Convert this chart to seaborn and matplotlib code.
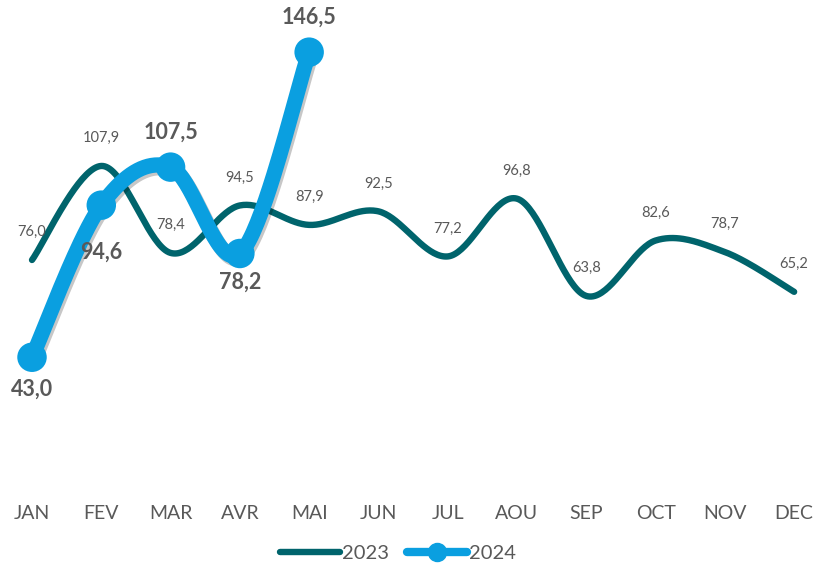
import numpy as np
import pandas as pd
import matplotlib
matplotlib.use("Agg")
import matplotlib.pyplot as plt
import matplotlib.patheffects as pe
from matplotlib.lines import Line2D
import seaborn as sns

# ---- data ----
months = ["JAN", "FEV", "MAR", "AVR", "MAI", "JUN", "JUL", "AOU", "SEP", "OCT", "NOV", "DEC"]
values_2023 = [76.0, 107.9, 78.4, 94.5, 87.9, 92.5, 77.2, 96.8, 63.8, 82.6, 78.7, 65.2]
values_2024 = [43.0, 94.6, 107.5, 78.2, 146.5]
series_names = ["2023", "2024"]

# ---- style ----
C23 = "#00646C"
C24 = "#0A9FE0"
TXT = "#595959"

sns.set_theme(style="white")
plt.rcParams["font.family"] = ["Lato", "DejaVu Sans"]


def smooth(y, n=40):
    """Excel-like smoothed line (Catmull-Rom Bezier) through the data points."""
    x = np.arange(len(y), dtype=float)
    y = np.asarray(y, dtype=float)
    P = np.column_stack([x, y])
    out = []
    for i in range(len(P) - 1):
        p0 = P[i - 1] if i > 0 else P[i]
        p1 = P[i]
        p2 = P[i + 1]
        p3 = P[i + 2] if i + 2 < len(P) else P[i + 1]
        b1 = p1 + (p2 - p0) / 6.0
        b2 = p2 - (p3 - p1) / 6.0
        t = np.linspace(0, 1, n, endpoint=(i == len(P) - 2))[:, None]
        pts = ((1 - t) ** 3) * p1 + 3 * ((1 - t) ** 2) * t * b1 + 3 * (1 - t) * t ** 2 * b2 + t ** 3 * p2
        out.append(pts)
    pts = np.vstack(out)
    return pts[:, 0], pts[:, 1]


fig = plt.figure(figsize=(8.17, 5.64), dpi=100)
ax = fig.add_axes([0, 1 - 484 / 564, 1, 484 / 564])

x23, y23 = smooth(values_2023)
x24, y24 = smooth(values_2024)
df23 = pd.DataFrame({"x": x23, "y": y23})
df24 = pd.DataFrame({"x": x24, "y": y24})
pts24 = pd.DataFrame({"x": np.arange(len(values_2024)), "y": values_2024})

sns.lineplot(data=df23, x="x", y="y", sort=False, ax=ax, color=C23, linewidth=4.6,
             solid_capstyle="round", zorder=2)
sns.lineplot(data=df24, x="x", y="y", sort=False, ax=ax, color=C24, linewidth=11,
             solid_capstyle="round", zorder=3)
ax.lines[-1].set_path_effects([
    pe.SimpleLineShadow(offset=(1.5, -2), shadow_color="black", alpha=0.22),
    pe.Normal(),
])
sns.scatterplot(data=pts24, x="x", y="y", ax=ax, color=C24, s=450, edgecolor="none",
                zorder=4)

# labels 2023 (above points)
for i, v in enumerate(values_2023):
    ax.annotate(f"{v:.1f}".replace(".", ","), (i, v), xytext=(0, 20), textcoords="offset points",
                ha="center", va="center", fontsize=10.5, color=TXT, zorder=5)

# labels 2024
off24 = [-23, -34, 25, -21, 25]
for i, v in enumerate(values_2024):
    ax.annotate(f"{v:.1f}".replace(".", ","), (i, v), xytext=(0, off24[i]), textcoords="offset points",
                ha="center", va="center", fontsize=15.5, fontweight="bold", color=TXT, zorder=5)

ax.set_xlim(-0.462, 11.33)
ax.set_ylim(0, 164.2)
ax.set_xticks(range(len(months)))
ax.set_xticklabels(months)
ax.set_yticks([])
ax.tick_params(axis="x", length=0, pad=15, labelsize=14, labelcolor=TXT)
ax.set_xlabel("")
ax.set_ylabel("")
for s in ax.spines.values():
    s.set_visible(False)
ax.patch.set_alpha(0)

handles = [
    Line2D([], [], color=C23, linewidth=4.6, solid_capstyle="round"),
    Line2D([], [], color=C24, linewidth=6, marker="o", markersize=13, solid_capstyle="round"),
]
leg = fig.legend(handles, series_names, loc="center", bbox_to_anchor=(398 / 817, 1 - 553 / 564),
                 ncol=2, frameon=False, handlelength=3.0, handletextpad=0.1, columnspacing=0.9,
                 fontsize=14.5)
for t in leg.get_texts():
    t.set_color(TXT)

fig.savefig("out.png", dpi=100)
